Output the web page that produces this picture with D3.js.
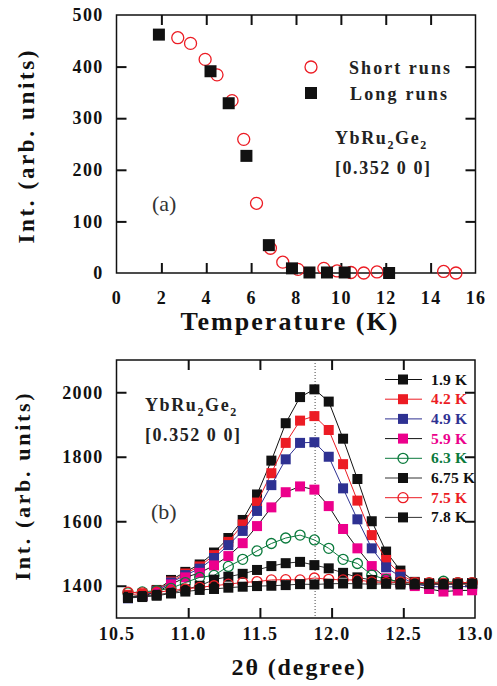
<!doctype html>
<html lang="en">
<head>
  <meta charset="utf-8">
  <title>YbRu2Ge2 [0.352 0 0]</title>
  <script src="https://d3js.org/d3.v7.min.js"></script>
  <style>
    body { margin: 0; background: #fff; }
    svg text { font-family: "Liberation Serif", "Times New Roman", serif; }
  </style>
</head>
<body>
  <div id="chart"></div>
  <script>
  // panel (a): peak intensity vs temperature
  var shortT = [2.73, 3.3, 3.95, 4.48, 5.15, 5.67, 6.24, 6.86, 7.41, 8.09, 9.24, 9.83, 10.45, 11.02, 11.61, 14.58, 15.13];
  var shortI = [456, 445, 414, 384, 334, 259, 135, 48, 21, 7, 9, 4, 1, 0, 2, 3, 0];
  var longT = [1.89, 4.19, 5.0, 5.79, 6.79, 7.82, 8.6, 9.38, 10.17, 12.15];
  var longI = [462, 391, 329, 227, 54, 9, 1, 1, 1, 0];
  var tempTicks = [0, 2, 4, 6, 8, 10, 12, 14, 16];
  var intTicksA = [0, 100, 200, 300, 400, 500];

  // panel (b): scans at several temperatures
  var twoTheta = [10.58, 10.68, 10.78, 10.88, 10.98, 11.08, 11.18, 11.28, 11.38, 11.48, 11.58, 11.68, 11.78,
                  11.88, 11.98, 12.08, 12.18, 12.28, 12.38, 12.48, 12.58, 12.68, 12.78, 12.88, 12.98];
  var scan19 = [1366, 1370, 1387, 1418, 1443, 1466, 1503, 1548, 1604, 1683, 1788, 1904, 1985,
                2009, 1971, 1856, 1731, 1600, 1506, 1447, 1412, 1408, 1406, 1407, 1408];
  var scan42 = [1372, 1376, 1385, 1413, 1438, 1460, 1495, 1536, 1590, 1658, 1749, 1843, 1912,
                1926, 1883, 1777, 1664, 1557, 1480, 1435, 1410, 1405, 1405, 1406, 1405];
  var scan49 = [1361, 1368, 1383, 1410, 1433, 1453, 1486, 1526, 1570, 1632, 1712, 1792, 1843,
                1845, 1800, 1702, 1606, 1516, 1457, 1428, 1405, 1398, 1396, 1397, 1398];
  var scan59 = [1365, 1368, 1380, 1404, 1426, 1440, 1463, 1492, 1532, 1585, 1643, 1690, 1708,
                1698, 1647, 1576, 1516, 1461, 1423, 1410, 1399, 1390, 1382, 1385, 1386];
  var scan63 = [1378, 1381, 1385, 1392, 1410, 1426, 1432, 1460, 1482, 1508, 1531, 1548, 1557,
                1542, 1516, 1482, 1469, 1433, 1420, 1412, 1408, 1408, 1414, 1410, 1410];
  var scan675 = [1366, 1368, 1372, 1378, 1389, 1400, 1419, 1428, 1437, 1449, 1461, 1470, 1474,
                 1464, 1454, 1440, 1426, 1418, 1412, 1410, 1407, 1406, 1407, 1407, 1408];
  var scan75 = [1380, 1378, 1380, 1385, 1390, 1395, 1400, 1405, 1410, 1413, 1418, 1419, 1418,
                1424, 1420, 1418, 1418, 1412, 1410, 1412, 1410, 1410, 1408, 1410, 1410];
  var scan78 = [1362, 1365, 1369, 1376, 1382, 1387, 1390, 1394, 1397, 1399, 1400, 1402, 1405,
                1404, 1406, 1407, 1406, 1405, 1406, 1404, 1404, 1405, 1404, 1405, 1406];
  var scanLabels = ["1.9 K", "4.2 K", "4.9 K", "5.9 K", "6.3 K", "6.75 K", "7.5 K", "7.8 K"];
  var thetaTicks = [10.5, 11.0, 11.5, 12.0, 12.5, 13.0];
  var intTicksB = [1400, 1600, 1800, 2000];
  var peakPos = 11.885;

  var width = 497, height = 686;
  var red = "#ec1c24", blue = "#2e3192", pink = "#ec008c", green = "#0a7a3c";

  var svg = d3.select("#chart").append("svg")
      .attr("width", width)
      .attr("height", height);
  svg.append("rect").attr("width", width).attr("height", height).attr("fill", "#fff");

  function frame(g, x, y, xt, yt, xPad, yPad, xFmt) {
    var x0 = x.range()[0], x1 = x.range()[1], y0 = y.range()[0], y1 = y.range()[1];
    var bottom = g.append("g").attr("transform", "translate(0," + y0 + ")")
      .call(d3.axisBottom(x).tickValues(xt).tickSize(-10).tickPadding(xPad).tickFormat(xFmt));
    var left = g.append("g").attr("transform", "translate(" + x0 + ",0)")
      .call(d3.axisLeft(y).tickValues(yt).tickSize(-10).tickPadding(yPad).tickFormat(d3.format("d")));
    var top = g.append("g").attr("transform", "translate(0," + y1 + ")")
      .call(d3.axisTop(x).tickValues(xt).tickSize(-10).tickFormat(""));
    var right = g.append("g").attr("transform", "translate(" + x1 + ",0)")
      .call(d3.axisRight(y).tickValues(yt).tickSize(-10).tickFormat(""));
    [bottom, left, top, right].forEach(function(a) {
      a.select(".domain").remove();
      a.selectAll(".tick line").attr("stroke", "#111").attr("stroke-width", 2);
      a.selectAll(".tick text")
        .attr("font-size", 18).attr("font-weight", "bold").attr("fill", "#111")
        .style("letter-spacing", "1.3px");
    });
    // the ticks at the box corners are hidden by the frame
    [bottom, top].forEach(function(a) {
      a.selectAll(".tick line").filter(function(d) { return d === xt[0] || d === xt[xt.length - 1]; }).remove();
    });
    [left, right].forEach(function(a) {
      a.selectAll(".tick line").filter(function(d) { return d === y.domain()[0] || d === y.domain()[1]; }).remove();
    });
    g.append("rect")
      .attr("x", x0).attr("y", y1)
      .attr("width", x1 - x0).attr("height", y0 - y1)
      .attr("fill", "none").attr("stroke", "#111").attr("stroke-width", 1.5);
  }

  function compound(g, x, y) {
    var t = g.append("text").attr("x", x).attr("y", y)
      .attr("font-size", 18).attr("font-weight", "bold").attr("fill", "#222")
      .style("letter-spacing", "1.6px");
    t.append("tspan").text("YbRu");
    t.append("tspan").attr("font-size", 12).attr("dy", 5).text("2");
    t.append("tspan").attr("dy", -5).text("Ge");
    t.append("tspan").attr("font-size", 12).attr("dy", 5).text("2");
    g.append("text").attr("x", x).attr("y", y + 30)
      .attr("font-size", 18).attr("font-weight", "bold").attr("fill", "#222")
      .attr("textLength", 95).attr("lengthAdjust", "spacing")
      .text("[0.352 0 0]");
  }

  function title(g, text, x, y, size, len, rotate) {
    return g.append("text")
      .attr("transform", "translate(" + x + "," + y + ")" + (rotate ? " rotate(-90)" : ""))
      .attr("x", -len / 2)
      .attr("font-size", size).attr("font-weight", "bold").attr("fill", "#111")
      .attr("textLength", len).attr("lengthAdjust", "spacing")
      .text(text);
  }

  // ---------- panel (a) ----------
  var xa = d3.scaleLinear().domain([0, 16]).range([116.5, 475.5]);
  var ya = d3.scaleLinear().domain([0, 500]).range([273, 15]);
  var ga = svg.append("g");

  frame(ga, xa, ya, tempTicks, intTicksA, 18, 13, d3.format("d"));

  ga.selectAll("circle.short")
      .data(shortT)
      .enter()
      .append("circle")
      .attr("class", "short")
      .attr("cx", function(d) { return xa(d); })
      .attr("cy", function(d, i) { return ya(shortI[i]); })
      .attr("r", 6)
      .attr("fill", "none")
      .attr("stroke", red)
      .attr("stroke-width", 1.3);

  ga.selectAll("rect.long")
      .data(longT)
      .enter()
      .append("rect")
      .attr("class", "long")
      .attr("x", function(d) { return xa(d) - 6; })
      .attr("y", function(d, i) { return ya(longI[i]) - 6; })
      .attr("width", 12)
      .attr("height", 12)
      .attr("fill", "#111");

  // legend (a)
  ga.append("circle").attr("cx", 311).attr("cy", 67).attr("r", 6)
    .attr("fill", "none").attr("stroke", red).attr("stroke-width", 1.3);
  ga.append("rect").attr("x", 305).attr("y", 87).attr("width", 12).attr("height", 12).attr("fill", "#111");
  ga.append("text").attr("x", 349).attr("y", 74).text("Short runs")
    .attr("font-size", 18).attr("font-weight", "bold").attr("fill", "#222")
    .attr("textLength", 101).attr("lengthAdjust", "spacing");
  ga.append("text").attr("x", 350).attr("y", 100).text("Long runs")
    .attr("font-size", 18).attr("font-weight", "bold").attr("fill", "#222")
    .attr("textLength", 97).attr("lengthAdjust", "spacing");

  compound(ga, 335, 144);
  ga.append("text").attr("x", 152).attr("y", 211).attr("font-size", 22).attr("fill", "#333").text("(a)");

  title(ga, "Temperature (K)", 289, 330, 26, 217, false);
  title(ga, "Int. (arb. units)", 34, 147, 23, 193, true);

  // ---------- panel (b) ----------
  var xb = d3.scaleLinear().domain([10.5, 13.0]).range([116.5, 475]);
  var yb = d3.scaleLinear().domain([1300, 2100]).range([618, 360]);
  var gb = svg.append("g");

  frame(gb, xb, yb, thetaTicks, intTicksB, 9, 13, d3.format(".1f"));

  gb.append("line")
    .attr("x1", xb(peakPos)).attr("x2", xb(peakPos))
    .attr("y1", yb(2100)).attr("y2", yb(1300))
    .attr("stroke", "#444").attr("stroke-width", 1)
    .attr("stroke-dasharray", "1,2");

  var series = [
    {label: scanLabels[0], values: scan19, line: "#111", mark: "#111", text: "#111", shape: "square"},
    {label: scanLabels[1], values: scan42, line: red, mark: red, text: red, shape: "square"},
    {label: scanLabels[2], values: scan49, line: blue, mark: blue, text: blue, shape: "square"},
    {label: scanLabels[3], values: scan59, line: "#111", mark: pink, text: pink, shape: "square"},
    {label: scanLabels[4], values: scan63, line: green, mark: green, text: green, shape: "circle"},
    {label: scanLabels[5], values: scan675, line: "#333", mark: "#111", text: "#111", shape: "square"},
    {label: scanLabels[6], values: scan75, line: red, mark: red, text: red, shape: "circle"},
    {label: scanLabels[7], values: scan78, line: "#333", mark: "#111", text: "#111", shape: "square"}
  ];

  var line = d3.line()
    .x(function(d, i) { return xb(twoTheta[i]); })
    .y(function(d) { return yb(d); });

  function marker(g, shape, color, cx, cy) {
    if (shape === "square") {
      g.append("rect").attr("x", cx - 5).attr("y", cy - 5).attr("width", 10).attr("height", 10)
        .attr("fill", color);
    } else {
      g.append("circle").attr("cx", cx).attr("cy", cy).attr("r", 5)
        .attr("fill", "none").attr("stroke", color).attr("stroke-width", 1.3);
    }
  }

  series.forEach(function(s) {
    var g = gb.append("g");
    g.append("path")
      .attr("d", line(s.values))
      .attr("fill", "none")
      .attr("stroke", s.line)
      .attr("stroke-width", 1);
    s.values.forEach(function(v, i) {
      marker(g, s.shape, s.mark, xb(twoTheta[i]), yb(v));
    });
  });

  // legend (b)
  series.forEach(function(s, i) {
    var y = 379.5 + i * 19.7;
    var g = gb.append("g");
    g.append("line").attr("x1", 385).attr("x2", 422).attr("y1", y).attr("y2", y)
      .attr("stroke", s.line).attr("stroke-width", 1);
    marker(g, s.shape, s.mark, 403, y);
    g.append("text").attr("x", 431).attr("y", y + 5).text(s.label)
      .attr("font-size", 15.5).attr("font-weight", "bold").attr("fill", s.text)
      .style("letter-spacing", "0.2px");
  });

  compound(gb, 145, 411);
  gb.append("text").attr("x", 151).attr("y", 519).attr("font-size", 22).attr("fill", "#333").text("(b)");

  title(gb, "2\u03b8 (degree)", 298, 675, 24, 133, false);
  title(gb, "Int. (arb. units)", 30, 487, 22, 187, true);
  </script>
</body>
</html>
